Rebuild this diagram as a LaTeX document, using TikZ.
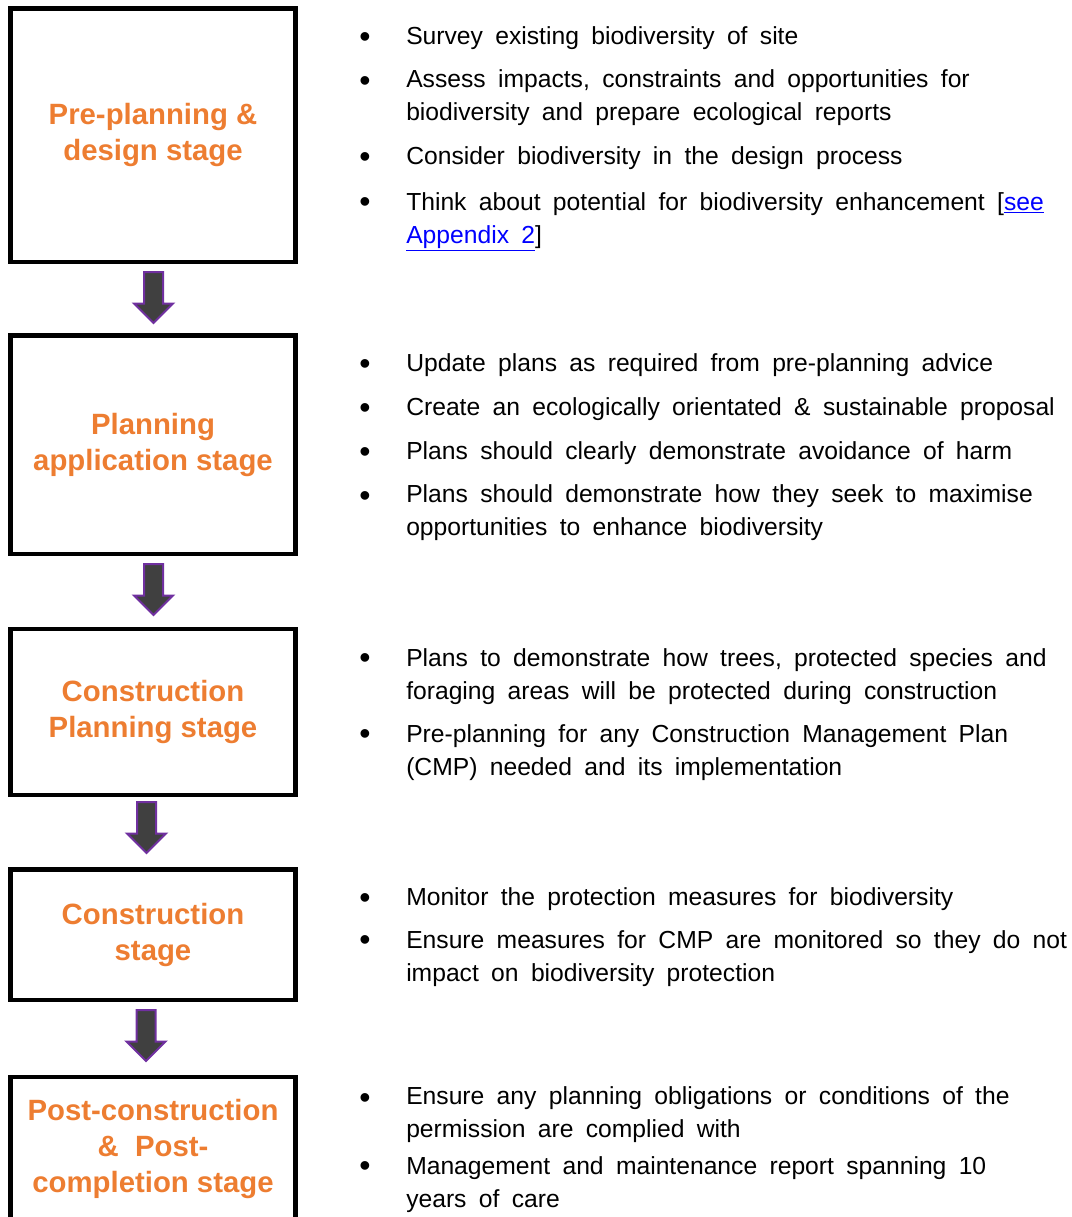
\documentclass[tikz,border=0pt]{standalone}
\usepackage{fontspec}
\setmainfont{Liberation Sans}
\usetikzlibrary{shapes.arrows}
\definecolor{stageorange}{HTML}{ED7D31}
\definecolor{arrowgray}{HTML}{404040}
\definecolor{arrowpurple}{HTML}{7030A0}
\definecolor{linkblue}{HTML}{0000FF}
\newcommand{\bodyfont}{\fontsize{18.5}{24.75}\selectfont\spaceskip=0.5em plus 0.1em minus 0.05em\relax}
\newcommand{\seelink}[1]{\textcolor{linkblue}{\underline{#1}}}
\tikzset{
stage/.style={draw=black,line width=3.375pt,minimum width=213.75pt,inner sep=0pt,align=center,text=stageorange,font=\fontsize{22}{27}\selectfont\bfseries},
downarrow/.style={single arrow,draw=arrowpurple,fill=arrowgray,line width=1.5pt,rotate=-90,anchor=tail,minimum height=38.25pt,inner sep=6.375pt,single arrow head extend=7.5pt},
bul/.style={anchor=base,inner sep=0pt,yshift=-2.25pt,font=\fontsize{24}{24}\selectfont},
txt/.style={anchor=base west,inner sep=0pt,align=left,font=\bodyfont}
}

\begin{document}
\begin{tikzpicture}[x=0.75pt,y=-0.75pt]
\useasboundingbox (0,0) rectangle (1071,1217);
\clip (0,0) rectangle (1071,1217);
%stages, left column
\node[stage,minimum height=190.1pt] (s1) at (153,135.25) {Pre-planning \&\\design stage};
\node[stage,minimum height=163.9pt] (s2) at (153,444.75) {Planning\\application stage};
\node[stage,minimum height=124.5pt] (s3) at (153,712) {Construction\\Planning stage};
\node[stage,minimum height=97.9pt] (s4) at (153,934.75) {Construction\\stage};
\node[stage,minimum height=108pt] (s5) at (153,1149) {Post-construction\\\&\ \ Post-\\completion stage};
%arrows between stages (tail at top)
\node[downarrow] (a1) at (153.5,271) {};
\node[downarrow] (a2) at (153.5,563) {};
\node[downarrow] (a3) at (146.5,801) {};
\node[downarrow] (a4) at (146,1009) {};
%s1 items, y = baseline of last line
\node[bul] (b1a) at (365,44.5) {•};
\node[txt] (t1a) at (406,44.5) {Survey existing biodiversity of site};
\node[bul] (b1b) at (365,88.5) {•};
\node[txt] (t1b) at (406,120.5) {Assess impacts, constraints and opportunities for\\biodiversity and prepare ecological reports};
\node[bul] (b1c) at (365,164.5) {•};
\node[txt] (t1c) at (406,164.5) {Consider biodiversity in the design process};
\node[bul] (b1d) at (365,209.5) {•};
\node[txt] (t1d) at (406,243.5) {Think about potential for biodiversity enhancement [\seelink{see}\\\seelink{Appendix 2}]};
%s2 items
\node[bul] (b2a) at (365,371.5) {•};
\node[txt] (t2a) at (406,371.5) {Update plans as required from pre-planning advice};
\node[bul] (b2b) at (365,415.5) {•};
\node[txt] (t2b) at (406,415.5) {Create an ecologically orientated \& sustainable proposal};
\node[bul] (b2c) at (365,459.5) {•};
\node[txt] (t2c) at (406,459.5) {Plans should clearly demonstrate avoidance of harm};
\node[bul] (b2d) at (365,503.5) {•};
\node[txt] (t2d) at (406,535.5) {Plans should demonstrate how they seek to maximise\\opportunities to enhance biodiversity};
%s3 items
\node[bul] (b3a) at (365,665.5) {•};
\node[txt] (t3a) at (406,699.5) {Plans to demonstrate how trees, protected species and\\foraging areas will be protected during construction};
\node[bul] (b3b) at (365,741.5) {•};
\node[txt] (t3b) at (406,775.5) {Pre-planning for any Construction Management Plan\\(CMP) needed and its implementation};
%s4 items
\node[bul] (b4a) at (365,905.5) {•};
\node[txt] (t4a) at (406,905.5) {Monitor the protection measures for biodiversity};
\node[bul] (b4b) at (365,947.5) {•};
\node[txt] (t4b) at (406,981.5) {Ensure measures for CMP are monitored so they do not\\impact on biodiversity protection};
%s5 items
\node[bul] (b5a) at (365,1105.5) {•};
\node[txt] (t5a) at (406,1137.5) {Ensure any planning obligations or conditions of the\\permission are complied with};
\node[bul] (b5b) at (365,1173.5) {•};
\node[txt] (t5b) at (406,1207.5) {Management and maintenance report spanning 10\\years of care};
\end{tikzpicture}
\end{document}
